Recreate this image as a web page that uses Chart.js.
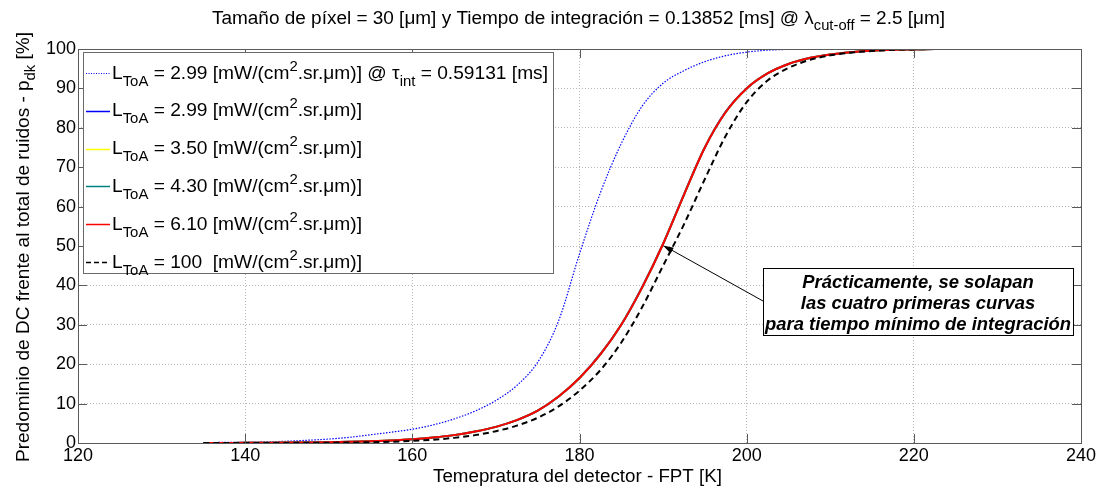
<!DOCTYPE html>
<html>
<head>
<meta charset="utf-8">
<script src="https://cdn.jsdelivr.net/npm/chart.js@4.4.1/dist/chart.umd.min.js"></script>
<style>
  html, body { margin: 0; padding: 0; background: #fff; }
</style>
</head>
<body>
<canvas id="myChart" width="1100" height="488"></canvas>
<script>
/* data */
const temps = [135, 137.5, 140, 142.5, 145, 147.5, 150, 152.5, 155, 157.5, 160, 162.5, 165, 167.5, 170, 172.5, 175, 177.5, 180, 182.5,
    185, 187.5, 190, 192.5, 195, 197.5, 200, 202.5, 205, 207.5, 210, 212.5, 215, 217.5, 220, 222.5, 225, 227.5, 230, 232.5, 235];

// L = 2.99 @ tau = 0.59131 ms (dotted)
const pdkLongInt = [0.1, 0.15, 0.2, 0.3, 0.45, 0.7, 1.0, 1.45, 2.1, 2.75, 3.5, 4.6, 6.1, 8.1, 10.8, 14.6, 20.5, 31, 48, 63.5,
    76, 85.5, 91.3, 94.5, 96.8, 98.3, 99.2, 99.7, 99.9, 100, 100, 100, 100, 100, 100, 100, 100, 100, 100, 100, 100];
const pdk299 = [0, 0.02, 0.04, 0.07, 0.1, 0.15, 0.22, 0.32, 0.45, 0.65, 0.96, 1.4, 2.0, 2.9, 4.1, 5.8, 8.2, 11.8, 16.5, 22.6,
    30.1, 39.6, 50.6, 63.1, 75.1, 84.1, 90, 93.8, 96.2, 97.7, 98.6, 99.2, 99.6, 99.8, 99.9, 100, 100, 100, 100, 100, 100];
const pdk350 = [0, 0.02, 0.04, 0.07, 0.1, 0.15, 0.22, 0.32, 0.45, 0.65, 0.95, 1.4, 2.0, 2.9, 4.1, 5.8, 8.2, 11.8, 16.5, 22.5,
    30.1, 39.5, 50.6, 63.0, 75.1, 84.0, 90, 93.8, 96.2, 97.7, 98.6, 99.2, 99.6, 99.8, 99.9, 100, 100, 100, 100, 100, 100];
const pdk430 = [0, 0.02, 0.04, 0.07, 0.1, 0.15, 0.22, 0.32, 0.45, 0.65, 0.95, 1.4, 2.0, 2.9, 4.1, 5.8, 8.2, 11.8, 16.5, 22.5,
    30, 39.5, 50.5, 63.0, 75.0, 84.0, 90, 93.8, 96.2, 97.7, 98.6, 99.2, 99.6, 99.8, 99.9, 100, 100, 100, 100, 100, 100];
const pdk610 = [0, 0.02, 0.04, 0.07, 0.1, 0.15, 0.22, 0.32, 0.45, 0.65, 0.95, 1.4, 2.0, 2.9, 4.1, 5.8, 8.2, 11.8, 16.5, 22.5,
    30, 39.5, 50.5, 63, 75, 84, 90, 93.8, 96.2, 97.7, 98.6, 99.2, 99.6, 99.8, 99.9, 100, 100, 100, 100, 100, 100];
const pdk100 = [0, 0.005, 0.01, 0.02, 0.03, 0.05, 0.08, 0.13, 0.2, 0.33, 0.55, 0.85, 1.3, 2.0, 3.0, 4.4, 6.4, 9.3, 13.3, 18.5,
    25.5, 34.5, 45, 55.5, 67, 78, 86.5, 92, 95.2, 97.2, 98.4, 99.1, 99.5, 99.8, 99.9, 100, 100, 100, 100, 100, 100];

const radValues = ["2.99", "2.99", "3.50", "4.30", "6.10", "100 "];
const xTicks = [120, 140, 160, 180, 200, 220, 240];
const yTicks = [0, 10, 20, 30, 40, 50, 60, 70, 80, 90, 100];

const FONT = "'Liberation Sans', Arial, sans-serif";

function pts(ys) {
    return temps.map((t, i) => ({ x: t, y: ys[i] }));
}

const series = [
    { label: "2.99 @ tau", data: pdkLongInt, color: "#0000ff", width: 1.2, dash: [1.5, 1.5], order: 5 },
    { label: "2.99", data: pdk299, color: "#0000ff", width: 2, dash: [], order: 4 },
    { label: "3.50", data: pdk350, color: "#ffff00", width: 2, dash: [], order: 3 },
    { label: "4.30", data: pdk430, color: "#008080", width: 2, dash: [], order: 2 },
    { label: "6.10", data: pdk610, color: "#ff0000", width: 2, dash: [], order: 1 },
    { label: "100", data: pdk100, color: "#000000", width: 2, dash: [6, 4], order: 0 },
];

/* rich text helper: segments with k = 'sub' | 'sup' */
function segFont(s, base) {
    const size = s.k ? base.small : base.size;
    return base.style + " " + size + "px " + FONT;
}
function richWidth(ctx, segs, base) {
    let w = 0;
    segs.forEach((s) => { ctx.font = segFont(s, base); w += ctx.measureText(s.t).width; });
    return w;
}
function drawRich(ctx, segs, x, y, base, sx) {
    ctx.save();
    ctx.translate(x, y);
    ctx.scale(sx, 1);
    ctx.textBaseline = "alphabetic";
    ctx.textAlign = "left";
    let cx = 0;
    segs.forEach((s) => {
        ctx.font = segFont(s, base);
        let dy = 0;
        if (s.k == "sub") dy = base.subDy;
        if (s.k == "sup") dy = base.supDy;
        ctx.fillText(s.t, cx, dy);
        cx += ctx.measureText(s.t).width;
    });
    ctx.restore();
}
function legendSegs(i) {
    const segs = [
        { t: "L" }, { t: "ToA", k: "sub" },
        { t: " = " + radValues[i] + " [mW/(cm" }, { t: "2", k: "sup" }, { t: ".sr.\u03bcm)]" },
    ];
    if (i == 0) {
        segs.push({ t: " @ \u03c4" }, { t: "int", k: "sub" }, { t: " = 0.59131 [ms]" });
    }
    return segs;
}

const decorations = {
    id: "decorations",
    afterDraw(chart) {
        const ctx = chart.ctx;
        const a = chart.chartArea;
        const xs = chart.scales.x, ys = chart.scales.y;

        // frame + inward ticks
        ctx.save();
        ctx.strokeStyle = "#5a5a5a";
        ctx.lineWidth = 1;
        ctx.strokeRect(Math.round(a.left) + 0.5, Math.round(a.top) + 0.5,
            Math.round(a.right - a.left), Math.round(a.bottom - a.top));
        ctx.beginPath();
        xTicks.forEach((v) => {
            const px = Math.round(xs.getPixelForValue(v)) + 0.5;
            ctx.moveTo(px, a.bottom); ctx.lineTo(px, a.bottom - 9);
            ctx.moveTo(px, a.top); ctx.lineTo(px, a.top + 9);
        });
        yTicks.forEach((v) => {
            const py = Math.round(ys.getPixelForValue(v)) + 0.5;
            ctx.moveTo(a.left, py); ctx.lineTo(a.left + 9, py);
            ctx.moveTo(a.right, py); ctx.lineTo(a.right - 9, py);
        });
        ctx.stroke();
        ctx.restore();

        // legend
        const lg = { left: 83, top: 52, right: 553, bottom: 273 };
        ctx.save();
        ctx.fillStyle = "#fff";
        ctx.fillRect(lg.left, lg.top, lg.right - lg.left, lg.bottom - lg.top);
        ctx.strokeStyle = "#6a6a6a";
        ctx.lineWidth = 1;
        ctx.strokeRect(lg.left + 0.5, lg.top + 0.5, lg.right - lg.left, lg.bottom - lg.top);
        const base = { style: "normal", size: 18, small: 14, subDy: 7, supDy: -8 };
        const sx = 436 / richWidth(ctx, legendSegs(0), base);
        series.forEach((s, i) => {
            const cy = 73 + i * 37.8;
            ctx.beginPath();
            ctx.strokeStyle = s.color;
            ctx.lineWidth = i == 0 ? 1 : 1.5;
            ctx.setLineDash(i == 0 ? [1, 1.5] : (i == 5 ? [5, 3] : []));
            ctx.moveTo(86, Math.round(cy) + 0.5);
            ctx.lineTo(110, Math.round(cy) + 0.5);
            ctx.stroke();
            ctx.setLineDash([]);
            ctx.fillStyle = "#000";
            drawRich(ctx, legendSegs(i), 112, cy + 5.5, base, sx);
        });
        ctx.restore();

        // annotation box + arrow
        ctx.save();
        const bx = { left: 763, top: 268, right: 1073, bottom: 335 };
        ctx.strokeStyle = "#000";
        ctx.lineWidth = 1;
        ctx.beginPath();
        ctx.moveTo(bx.left, 301);
        ctx.lineTo(667, 247.5);
        ctx.stroke();
        // arrow head at the curve
        const tipX = 663, tipY = 245.5;
        const ang = Math.atan2(301 - tipY, bx.left - tipX);
        ctx.beginPath();
        ctx.moveTo(tipX, tipY);
        ctx.lineTo(tipX + 11 * Math.cos(ang - 0.3), tipY + 11 * Math.sin(ang - 0.3));
        ctx.lineTo(tipX + 11 * Math.cos(ang + 0.3), tipY + 11 * Math.sin(ang + 0.3));
        ctx.closePath();
        ctx.fillStyle = "#000";
        ctx.fill();
        ctx.fillStyle = "#fff";
        ctx.fillRect(bx.left, bx.top, bx.right - bx.left, bx.bottom - bx.top);
        ctx.strokeRect(bx.left + 0.5, bx.top + 0.5, bx.right - bx.left, bx.bottom - bx.top);
        const noteLines = ["Pr\u00e1cticamente, se solapan", "las cuatro primeras curvas", "para tiempo m\u00ednimo de integraci\u00f3n"];
        const nb = { style: "italic bold", size: 18, small: 14, subDy: 0, supDy: 0 };
        const nsx = 306 / richWidth(ctx, [{ t: noteLines[2] }], nb);
        ctx.fillStyle = "#000";
        noteLines.forEach((ln, i) => {
            const w = richWidth(ctx, [{ t: ln }], nb) * nsx;
            drawRich(ctx, [{ t: ln }], 918 - w / 2, 288 + i * 21, nb, nsx);
        });
        ctx.restore();

        // title
        ctx.save();
        ctx.fillStyle = "#000";
        const tb = { style: "normal", size: 18, small: 14, subDy: 6, supDy: -8 };
        const titleSegs = [
            { t: "Tama\u00f1o de p\u00edxel = 30 [\u03bcm] y Tiempo de integraci\u00f3n = 0.13852 [ms] @ \u03bb" },
            { t: "cut-off", k: "sub" }, { t: " = 2.5 [\u03bcm]" },
        ];
        const tsx = 733 / richWidth(ctx, titleSegs, tb);
        drawRich(ctx, titleSegs, 212, 24, tb, tsx);

        // x title
        const xt = [{ t: "Temepratura del detector - FPT [K]" }];
        const xsx = 289 / richWidth(ctx, xt, tb);
        drawRich(ctx, xt, 433, 482, tb, xsx);

        // y title (rotated)
        const yt = [{ t: "Predominio de DC frente al total de ruidos - p" }, { t: "dk", k: "sub" }, { t: " [%]" }];
        const ysx = 430 / richWidth(ctx, yt, tb);
        ctx.translate(29, 247);
        ctx.rotate(-Math.PI / 2);
        drawRich(ctx, yt, -215, 0, tb, ysx);
        ctx.restore();
    },
};

const config = {
    type: "line",
    data: {
        datasets: series.map((s) => ({
            label: s.label,
            data: pts(s.data),
            borderColor: s.color,
            borderWidth: s.width,
            borderDash: s.dash,
            pointRadius: 0,
            fill: false,
            order: s.order,
            cubicInterpolationMode: "monotone",
        })),
    },
    options: {
        responsive: false,
        animation: false,
        devicePixelRatio: 1,
        layout: { padding: { top: 49, right: 19, left: 0, bottom: 0 } },
        plugins: {
            legend: { display: false },
            tooltip: { enabled: false },
            title: { display: false },
        },
        scales: {
            x: {
                type: "linear",
                min: 120,
                max: 240,
                afterFit: (scale) => { scale.height = 45; },
                afterBuildTicks: (scale) => { scale.ticks = xTicks.map((v) => ({ value: v })); },
                ticks: { color: "#000", font: { family: FONT, size: 18 }, padding: 2, maxRotation: 0 },
                grid: { color: "#b8b8b8", lineWidth: 1, drawTicks: false },
                border: { display: false, dash: [1, 2] },
            },
            y: {
                min: 0,
                max: 100,
                afterFit: (scale) => { scale.width = 78; },
                afterBuildTicks: (scale) => { scale.ticks = yTicks.map((v) => ({ value: v })); },
                ticks: { color: "#000", font: { family: FONT, size: 18 }, padding: 2 },
                grid: { color: "#b8b8b8", lineWidth: 1, drawTicks: false },
                border: { display: false, dash: [1, 2] },
            },
        },
    },
    plugins: [decorations],
};

const myChart = new Chart(document.getElementById("myChart"), config);
</script>
</body>
</html>
